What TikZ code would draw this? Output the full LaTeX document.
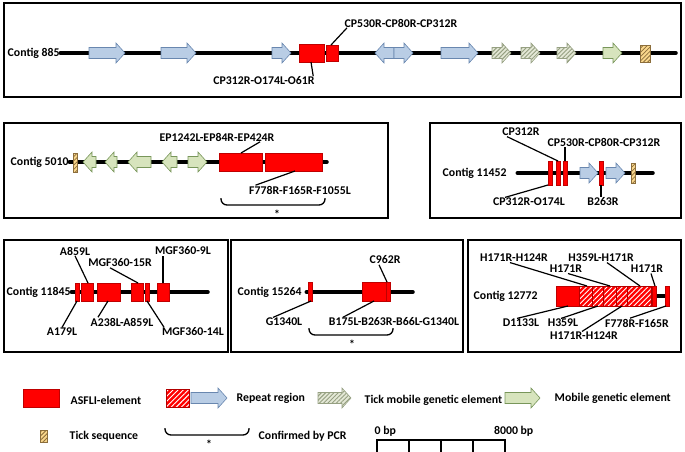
\documentclass[tikz,border=0pt]{standalone}
\usepackage{fontspec}
\setmainfont{Carlito}
\usepackage{tikz}
\usetikzlibrary{patterns.meta}
\definecolor{bluefill}{RGB}{185,205,229}
\definecolor{blueline}{RGB}{105,135,175}
\definecolor{greenfill}{RGB}{215,228,189}
\definecolor{greenline}{RGB}{120,150,90}
\definecolor{tmgfill}{RGB}{228,232,214}
\definecolor{tmghatch}{RGB}{150,160,130}
\definecolor{tickfill}{RGB}{250,215,140}
\definecolor{tickhatch}{RGB}{140,110,60}
\newcommand{\lbl}{\fontsize{11.8}{13}\selectfont\bfseries}
\newcommand{\generight}[4][bluegene]{\draw[#1] (#2,{#4-5.5}) -- ({#3-9},{#4-5.5}) -- ({#3-9},{#4-10}) -- (#3,#4) -- ({#3-9},{#4+10}) -- ({#3-9},{#4+5.5}) -- (#2,{#4+5.5}) -- cycle;}
\newcommand{\geneleft}[4][bluegene]{\draw[#1] (#3,{#4-5.5}) -- ({#2+9},{#4-5.5}) -- ({#2+9},{#4-10}) -- (#2,#4) -- ({#2+9},{#4+10}) -- ({#2+9},{#4+5.5}) -- (#3,{#4+5.5}) -- cycle;}
\tikzset{
  lab/.style={font=\lbl,inner sep=0.5pt},
  lead/.style={line width=1.2pt},
  frame/.style={line width=1.8pt},
  contig/.style={line width=3.5pt,line cap=round},
  asf/.style={fill=red,draw=red!75!black,line width=0.4pt},
  rep/.style={draw=red!70!black,line width=0.4pt,preaction={fill=red},pattern={Lines[angle=45,distance=3.6pt,line width=0.9pt]},pattern color=white},
  bluegene/.style={fill=bluefill,draw=blueline,line width=0.6pt},
  greengene/.style={fill=greenfill,draw=greenline,line width=0.6pt},
  tickgene/.style={draw=tmghatch,line width=0.6pt,preaction={fill=tmgfill},pattern={Lines[angle=45,distance=3pt,line width=1pt]},pattern color=tmghatch},
  tickseq/.style={draw=tickhatch,line width=0.4pt,preaction={fill=tickfill},pattern={Lines[angle=45,distance=3pt,line width=0.8pt]},pattern color=tickhatch},
  brace/.style={line width=1.3pt,rounded corners=6pt}
}
\begin{document}
\begin{tikzpicture}[x=1pt,y=-1pt]
\useasboundingbox (0,0) rectangle (685,451);
\draw[frame] (4,3) rectangle (681,97);
\draw[frame] (4,123) rectangle (388,218);
\draw[frame] (430,123) rectangle (681,218);
\draw[frame] (4,240) rectangle (228,352);
\draw[frame] (231,240) rectangle (463,352);
\draw[frame] (468,240) rectangle (681,352);

\node[lab,anchor=west] (c885) at (7,53) {Contig 885};
\coordinate (e885) at (676,53);
\draw[contig] (c885.east) -- (e885);
\generight{89}{125}{53}
\generight{161}{196}{53}
\generight{272}{291}{53}
\geneleft{375}{394}{53}
\generight{394}{413}{53}
\generight{441}{478}{53}
\generight[tickgene]{492}{511}{53}
\generight[tickgene]{521}{540}{53}
\generight[tickgene]{557}{576}{53}
\generight[greengene]{603}{622}{53}
\draw[tickseq] (640,45) rectangle (650,62);
\draw[asf] (299,44) rectangle (324,62);
\draw[asf] (326,45) rectangle (338,61);
\coordinate (p885a) at (331,45);
\coordinate (p885b) at (311,62);
\node[lab] (t885a) at (401,23) {CP530R-CP80R-CP312R};
\node[lab] (t885b) at (264,81) {CP312R-O174L-O61R};
\draw[lead] (p885a) -- ([xshift=3pt]t885a.south west);
\draw[lead] (p885b) -- ([xshift=-2pt]t885b.north east);

\node[lab,anchor=west] (c5010) at (10,162) {Contig 5010};
\coordinate (e5010) at (327,162);
\draw[contig] (c5010.east) -- (e5010);
\draw[tickseq] (73,153) rectangle (77,172);
\geneleft[greengene]{83}{96}{162}
\geneleft[greengene]{105}{117}{162}
\geneleft[greengene]{128}{151}{162}
\geneleft[greengene]{162}{177}{162}
\generight[greengene]{188}{207}{162}
\draw[asf] (219,153) rectangle (262,171);
\draw[asf] (265,153) rectangle (322,171);
\coordinate (p5010a) at (241,153);
\coordinate (p5010b) at (295,171);
\node[lab] (t5010a) at (217,137) {EP1242L-EP84R-EP424R};
\node[lab] (t5010b) at (300,190) {F778R-F165R-F1055L};
\draw[lead] (p5010a) -- ([xshift=-15pt]t5010a.south east);
\draw[lead] (p5010b) -- ([xshift=7pt]t5010b.north west);
\draw[brace] (221,198) -- (221,205) -- (325,205) -- (325,198);
\node[lab] (s5010) at (277,214) {*};

\node[lab,anchor=west] (c11452) at (442,173) {Contig 11452};
\coordinate (e11452) at (653,173);
\draw[contig] ([xshift=10pt]c11452.east) -- (e11452);
\draw[asf] (548,161) rectangle (552,185);
\draw[asf] (556,161) rectangle (560,185);
\draw[asf] (563,161) rectangle (567,185);
\generight{580}{598}{173}
\draw[asf] (599,161) rectangle (603,185);
\generight{606}{625}{173}
\draw[tickseq] (631,163) rectangle (635,183);
\coordinate (p11452a) at (558,161);
\coordinate (p11452b) at (565,161);
\coordinate (p11452c) at (548,185);
\coordinate (p11452d) at (601,185);
\node[lab] (t11452a) at (521,132) {CP312R};
\node[lab] (t11452b) at (604,142) {CP530R-CP80R-CP312R};
\node[lab] (t11452c) at (529,202) {CP312R-O174L};
\node[lab] (t11452d) at (603,202) {B263R};
\draw[lead] (p11452a) -- ([xshift=-14pt]t11452a.south);
\draw[lead] (p11452b) -- (p11452b |- t11452b.south);
\draw[lead] (p11452c) -- ([xshift=-24pt]t11452c.north);
\draw[lead] (p11452d) -- (p11452d |- t11452d.north);

\node[lab,anchor=west] (c11845) at (6,292) {Contig 11845};
\coordinate (e11845) at (208,292);
\draw[contig] (c11845.east) -- (e11845);
\draw[asf] (75,283) rectangle (79,301);
\draw[asf] (81,283) rectangle (93,301);
\draw[asf] (97,283) rectangle (120,301);
\draw[asf] (131,283) rectangle (143,301);
\draw[asf] (145,283) rectangle (149,301);
\draw[asf] (157,283) rectangle (169,301);
\coordinate (p11845a) at (88,283);
\coordinate (p11845b) at (138,283);
\coordinate (p11845c) at (163,283);
\coordinate (p11845d) at (77,301);
\coordinate (p11845e) at (108,301);
\coordinate (p11845f) at (147,301);
\node[lab] (t11845a) at (75,251) {A859L};
\node[lab] (t11845b) at (120,263) {MGF360-15R};
\node[lab] (t11845c) at (183,251) {MGF360-9L};
\node[lab] (t11845d) at (62,332) {A179L};
\node[lab] (t11845e) at (122,322) {A238L-A859L};
\node[lab] (t11845f) at (193,332) {MGF360-14L};
\draw[lead] (p11845a) -- (t11845a.south);
\draw[lead] (p11845b) -- ([xshift=-10pt]t11845b.south);
\draw[lead] (p11845c) -- (p11845c |- t11845c.south);
\draw[lead] (p11845d) -- (t11845d.north);
\draw[lead] (p11845e) -- ([xshift=-24pt]t11845e.north);
\draw[lead] (p11845f) -- ([xshift=-29pt]t11845f.north);

\node[lab,anchor=west] (c15264) at (237,292) {Contig 15264};
\coordinate (e15264) at (413,292);
\draw[contig] ([xshift=4pt]c15264.east) -- (e15264);
\draw[asf] (308,282) rectangle (312,301);
\draw[asf] (362,282) rectangle (386,301);
\draw[asf] (386,282) rectangle (390,301);
\coordinate (p15264a) at (387,282);
\coordinate (p15264b) at (311,301);
\coordinate (p15264c) at (374,301);
\node[lab] (t15264a) at (385,260) {C962R};
\node[lab] (t15264b) at (284,322) {G1340L};
\node[lab] (t15264c) at (394,322) {B175L-B263R-B66L-G1340L};
\draw[lead] (p15264a) -- ([xshift=-6pt]t15264a.south);
\draw[lead] (p15264b) -- ([xshift=-11pt]t15264b.north);
\draw[lead] (p15264c) -- ([xshift=-51pt]t15264c.north);
\draw[brace] (309,328) -- (309,335) -- (393,335) -- (393,328);
\node[lab] (s15264) at (352,344) {*};

\node[lab,anchor=west] (c12772) at (473,296) {Contig 12772};
\draw[asf] (556,286) rectangle (579,306);
\draw[rep] (579,286) rectangle (592,306);
\draw[rep] (592,286) rectangle (603,306);
\draw[rep] (603,286) rectangle (616,306);
\draw[rep] (616,286) rectangle (627,306);
\draw[rep] (627,286) rectangle (651,306);
\coordinate (b12772) at (656,296);
\coordinate (e12772) at (665,296);
\draw[contig,line cap=butt] (b12772) -- (e12772);
\draw[asf] (652,286) rectangle (656,306);
\draw[asf] (665,286) rectangle (669,306);
\coordinate (p12772a) at (587,286);
\coordinate (p12772b) at (640,286);
\coordinate (p12772c) at (610,286);
\coordinate (p12772d) at (655,286);
\coordinate (p12772e) at (568,306);
\coordinate (p12772f) at (598,306);
\coordinate (p12772g) at (622,306);
\coordinate (p12772h) at (666,306);
\node[lab] (t12772a) at (514,258) {H171R-H124R};
\node[lab] (t12772b) at (601,258) {H359L-H171R};
\node[lab] (t12772c) at (566,269) {H171R};
\node[lab] (t12772d) at (647,269) {H171R};
\node[lab] (t12772e) at (521,323) {D1133L};
\node[lab] (t12772f) at (563,323) {H359L};
\node[lab] (t12772g) at (584,336) {H171R-H124R};
\node[lab] (t12772h) at (637,323) {F778R-F165R};
\draw[lead] (p12772a) -- ([xshift=-4pt]t12772a.south);
\draw[lead] (p12772b) -- ([xshift=6pt]t12772b.south);
\draw[lead] (p12772c) -- ([xshift=2pt]t12772c.south);
\draw[lead] (p12772d) -- ([xshift=4pt]t12772d.south);
\draw[lead] (p12772e) -- ([xshift=-4pt]t12772e.north);
\draw[lead] (p12772f) -- ([xshift=-2pt]t12772f.north);
\draw[lead] (p12772g) -- ([xshift=-2pt]t12772g.north);
\draw[lead] (p12772h) -- ([xshift=-7pt]t12772h.north);

\draw[asf] (23,389) rectangle (59,407);
\node[lab,anchor=west] (k1) at (70,400) {ASFLI-element};
\draw[rep] (166,389) rectangle (189,407);
\generight{191}{227}{398}
\node[lab,anchor=west] (k2) at (236,398) {Repeat region};
\generight[tickgene]{318}{351}{398}
\node[lab,anchor=west] (k3) at (364,400) {Tick mobile genetic element};
\generight[greengene]{505}{540}{398}
\node[lab,anchor=west] (k4) at (554,398) {Mobile genetic element};
\draw[tickseq] (40,430) rectangle (47,442);
\node[lab,anchor=west] (k5) at (69,436) {Tick sequence};
\draw[brace] (165,428) -- (165,435) -- (249,435) -- (249,428);
\node[lab] (k6) at (209,444) {*};
\node[lab,anchor=west] (k7) at (258,436) {Confirmed by PCR};
\node[lab,anchor=west] (k8) at (374,431) {0 bp};
\node[lab,anchor=east] (k9) at (534,431) {8000 bp};
\draw[line width=1.3pt] (377,452) -- (377,440) -- (505,440) -- (505,452);
\foreach \t in {409,441,473} \draw[line width=1.3pt] (\t,440) -- (\t,452);
\end{tikzpicture}
\end{document}
